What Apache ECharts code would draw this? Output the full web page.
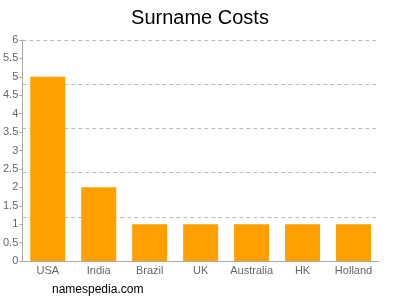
<!DOCTYPE html>
<html>
<head>
<meta charset="utf-8">
<script src="https://cdn.jsdelivr.net/npm/echarts@6/dist/echarts.min.js"></script>
<style>
	html, body { margin: 0; padding: 0; background: #fff; }
	#myChart { width: 400px; height: 300px; }
</style>
</head>
<body>
<div id="myChart"></div>
<script type="text/javascript">
// data
var countries = ['USA', 'India', 'Brazil', 'UK', 'Australia', 'HK', 'Holland'];
var costs = [5, 2, 1, 1, 1, 1, 1];
var yMax = 6;
var labelStep = 0.5;
var gridStep = 1.2;

var option = {
	animation: false,
	title:
	{
		text: 'Surname Costs',
		left: 'center',
		top: 3,
		textStyle: { fontFamily: 'Liberation Sans', fontSize: 20, fontWeight: 'normal', color: '#000' }
	},
	graphic:
	[
		{
			type: 'text',
			left: 52,
			top: 284,
			style: { text: 'namespedia.com', font: '12px "Liberation Sans"', fill: '#000' }
		}
	],
	grid: { left: 21, right: 21, top: 40, bottom: 39, containLabel: false },
	xAxis:
	{
		type: 'category',
		data: countries,
		axisLine: { lineStyle: { color: '#aaa' } },
		axisTick: { show: false },
		axisLabel: { interval: 0, color: '#666', fontFamily: 'Liberation Sans', fontSize: 11, margin: 4 }
	},
	yAxis:
	[
		{
			type: 'value',
			min: 0,
			max: yMax,
			interval: labelStep,
			axisLine: { show: true, lineStyle: { color: '#aaa' } },
			axisTick: { show: true, length: 3, lineStyle: { color: '#aaa' } },
			axisLabel: { color: '#666', fontFamily: 'Liberation Sans', fontSize: 11, margin: 4 },
			splitLine: { show: false }
		},
		{
			type: 'value',
			min: 0,
			max: yMax,
			interval: gridStep,
			position: 'left',
			axisLine: { show: false },
			axisTick: { show: false },
			axisLabel: { show: false },
			splitLine: { show: true, lineStyle: { color: '#bbb', type: [4, 3] } }
		}
	],
	series:
	[
		{
			name: 'Cost',
			type: 'bar',
			yAxisIndex: 0,
			barWidth: 35,
			itemStyle: { color: '#ffa000' },
			data: costs
		}
	]
};
echarts.init(document.getElementById('myChart')).setOption(option);
</script>
</body>
</html>
